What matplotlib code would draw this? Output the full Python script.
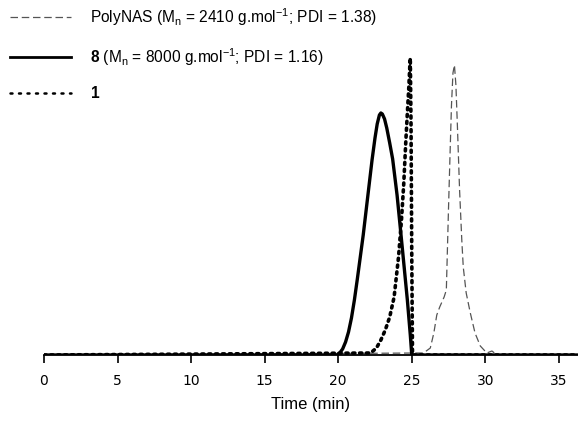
import matplotlib
matplotlib.use("Agg")
import matplotlib.pyplot as plt

plt.rcParams['font.family'] = ['Liberation Sans', 'DejaVu Sans']
plt.rcParams['mathtext.fontset'] = 'custom'
plt.rcParams['mathtext.rm'] = 'Liberation Sans'
plt.rcParams['mathtext.it'] = 'Liberation Sans:italic'
plt.rcParams['mathtext.bf'] = 'Liberation Sans:bold'

# PolyNAS (dashed)
t_polynas = [0, 25.8, 26.26, 26.5, 26.7, 26.9, 27.05, 27.2, 27.35, 27.5, 27.6, 27.7, 27.8, 27.9,
             28.0, 28.1, 28.25, 28.4, 28.5, 28.7, 28.98, 29.3, 29.66, 30.1, 30.45, 30.8, 36.3]
s_polynas = [0, 2, 7, 22, 40, 48, 53, 58, 65, 148, 200, 250, 282, 290,
             270, 230, 165, 115, 88, 62, 42, 22, 9, 2, 4, 0, 0]

# 8 (solid)
t_8 = [0, 19.9, 20.1, 20.3, 20.5, 20.7, 20.9, 21.1, 21.3, 21.5, 21.7, 21.9, 22.1, 22.3, 22.5,
       22.65, 22.8, 22.9, 23.0, 23.15, 23.3, 23.5, 23.7, 24.0, 24.35, 24.7, 24.9, 25.0, 36.3]
s_8 = [0, 0, 2, 6, 13, 23, 37, 55, 76, 98, 120, 145, 170, 195, 217,
       231, 240, 242, 241, 236, 227, 212, 196, 160, 108, 55, 20, 0, 0]

# 1 (dotted)
t_1 = [0, 22.2, 22.6, 22.9, 23.2, 23.5, 23.8, 24.1, 24.3, 24.45, 24.6, 24.7, 24.8, 24.87, 24.9,
       24.95, 25.0, 25.05, 36.3]
s_1 = [0, 2, 7, 15, 25, 38, 58, 98, 135, 170, 215, 242, 268, 290, 297,
       230, 100, 0, 0]

labels = ["PolyNAS (M$_\\mathrm{n}$ = 2410 g.mol$^{-1}$; PDI = 1.38)",
          "$\\mathbf{8}$ (M$_\\mathrm{n}$ = 8000 g.mol$^{-1}$; PDI = 1.16)",
          "$\\mathbf{1}$"]

fig = plt.figure(figsize=(5.78, 4.24), dpi=100)
ax = fig.add_axes([44/578, 69/424, 1 - 44/578, 355/424])

ax.plot(t_polynas, s_polynas, linestyle=(0, (6, 3)), color='#555555', lw=0.9, label=labels[0])
ax.plot(t_8, s_8, '-', color='black', lw=2.4, label=labels[1])
ax.plot(t_1, s_1, linestyle=(0, (0.6, 1.3)), color='black', lw=2.6, dash_capstyle='round', label=labels[2])

ax.set_xlim(0, 36.3)
ax.set_ylim(0, 355)
ax.set_xticks([0, 5, 10, 15, 20, 25, 30, 35])
ax.set_yticks([])
for s in ['top', 'left', 'right']:
    ax.spines[s].set_visible(False)
ax.spines['bottom'].set_linewidth(1.3)
ax.tick_params(axis='x', direction='out', length=6, width=1.2, pad=8, labelsize=10)
for lbl in ax.get_xticklabels():
    lbl.set_fontfamily('DejaVu Sans')
ax.set_xlabel("Time (min)", fontsize=12, labelpad=6)

h, l = ax.get_legend_handles_labels()
leg = ax.legend(h, l, loc='upper left', bbox_to_anchor=(-40/534, 1.0), frameon=False,
                fontsize=11.2, handlelength=3.9, handletextpad=1.25, labelspacing=1.15,
                borderaxespad=0.0)
leg.legend_handles[1].set_linewidth(2.0)
leg.legend_handles[2].set_linewidth(1.8)
leg.legend_handles[2].set_linestyle((0, (0.8, 2.6)))

fig.savefig("out.png", dpi=100)
